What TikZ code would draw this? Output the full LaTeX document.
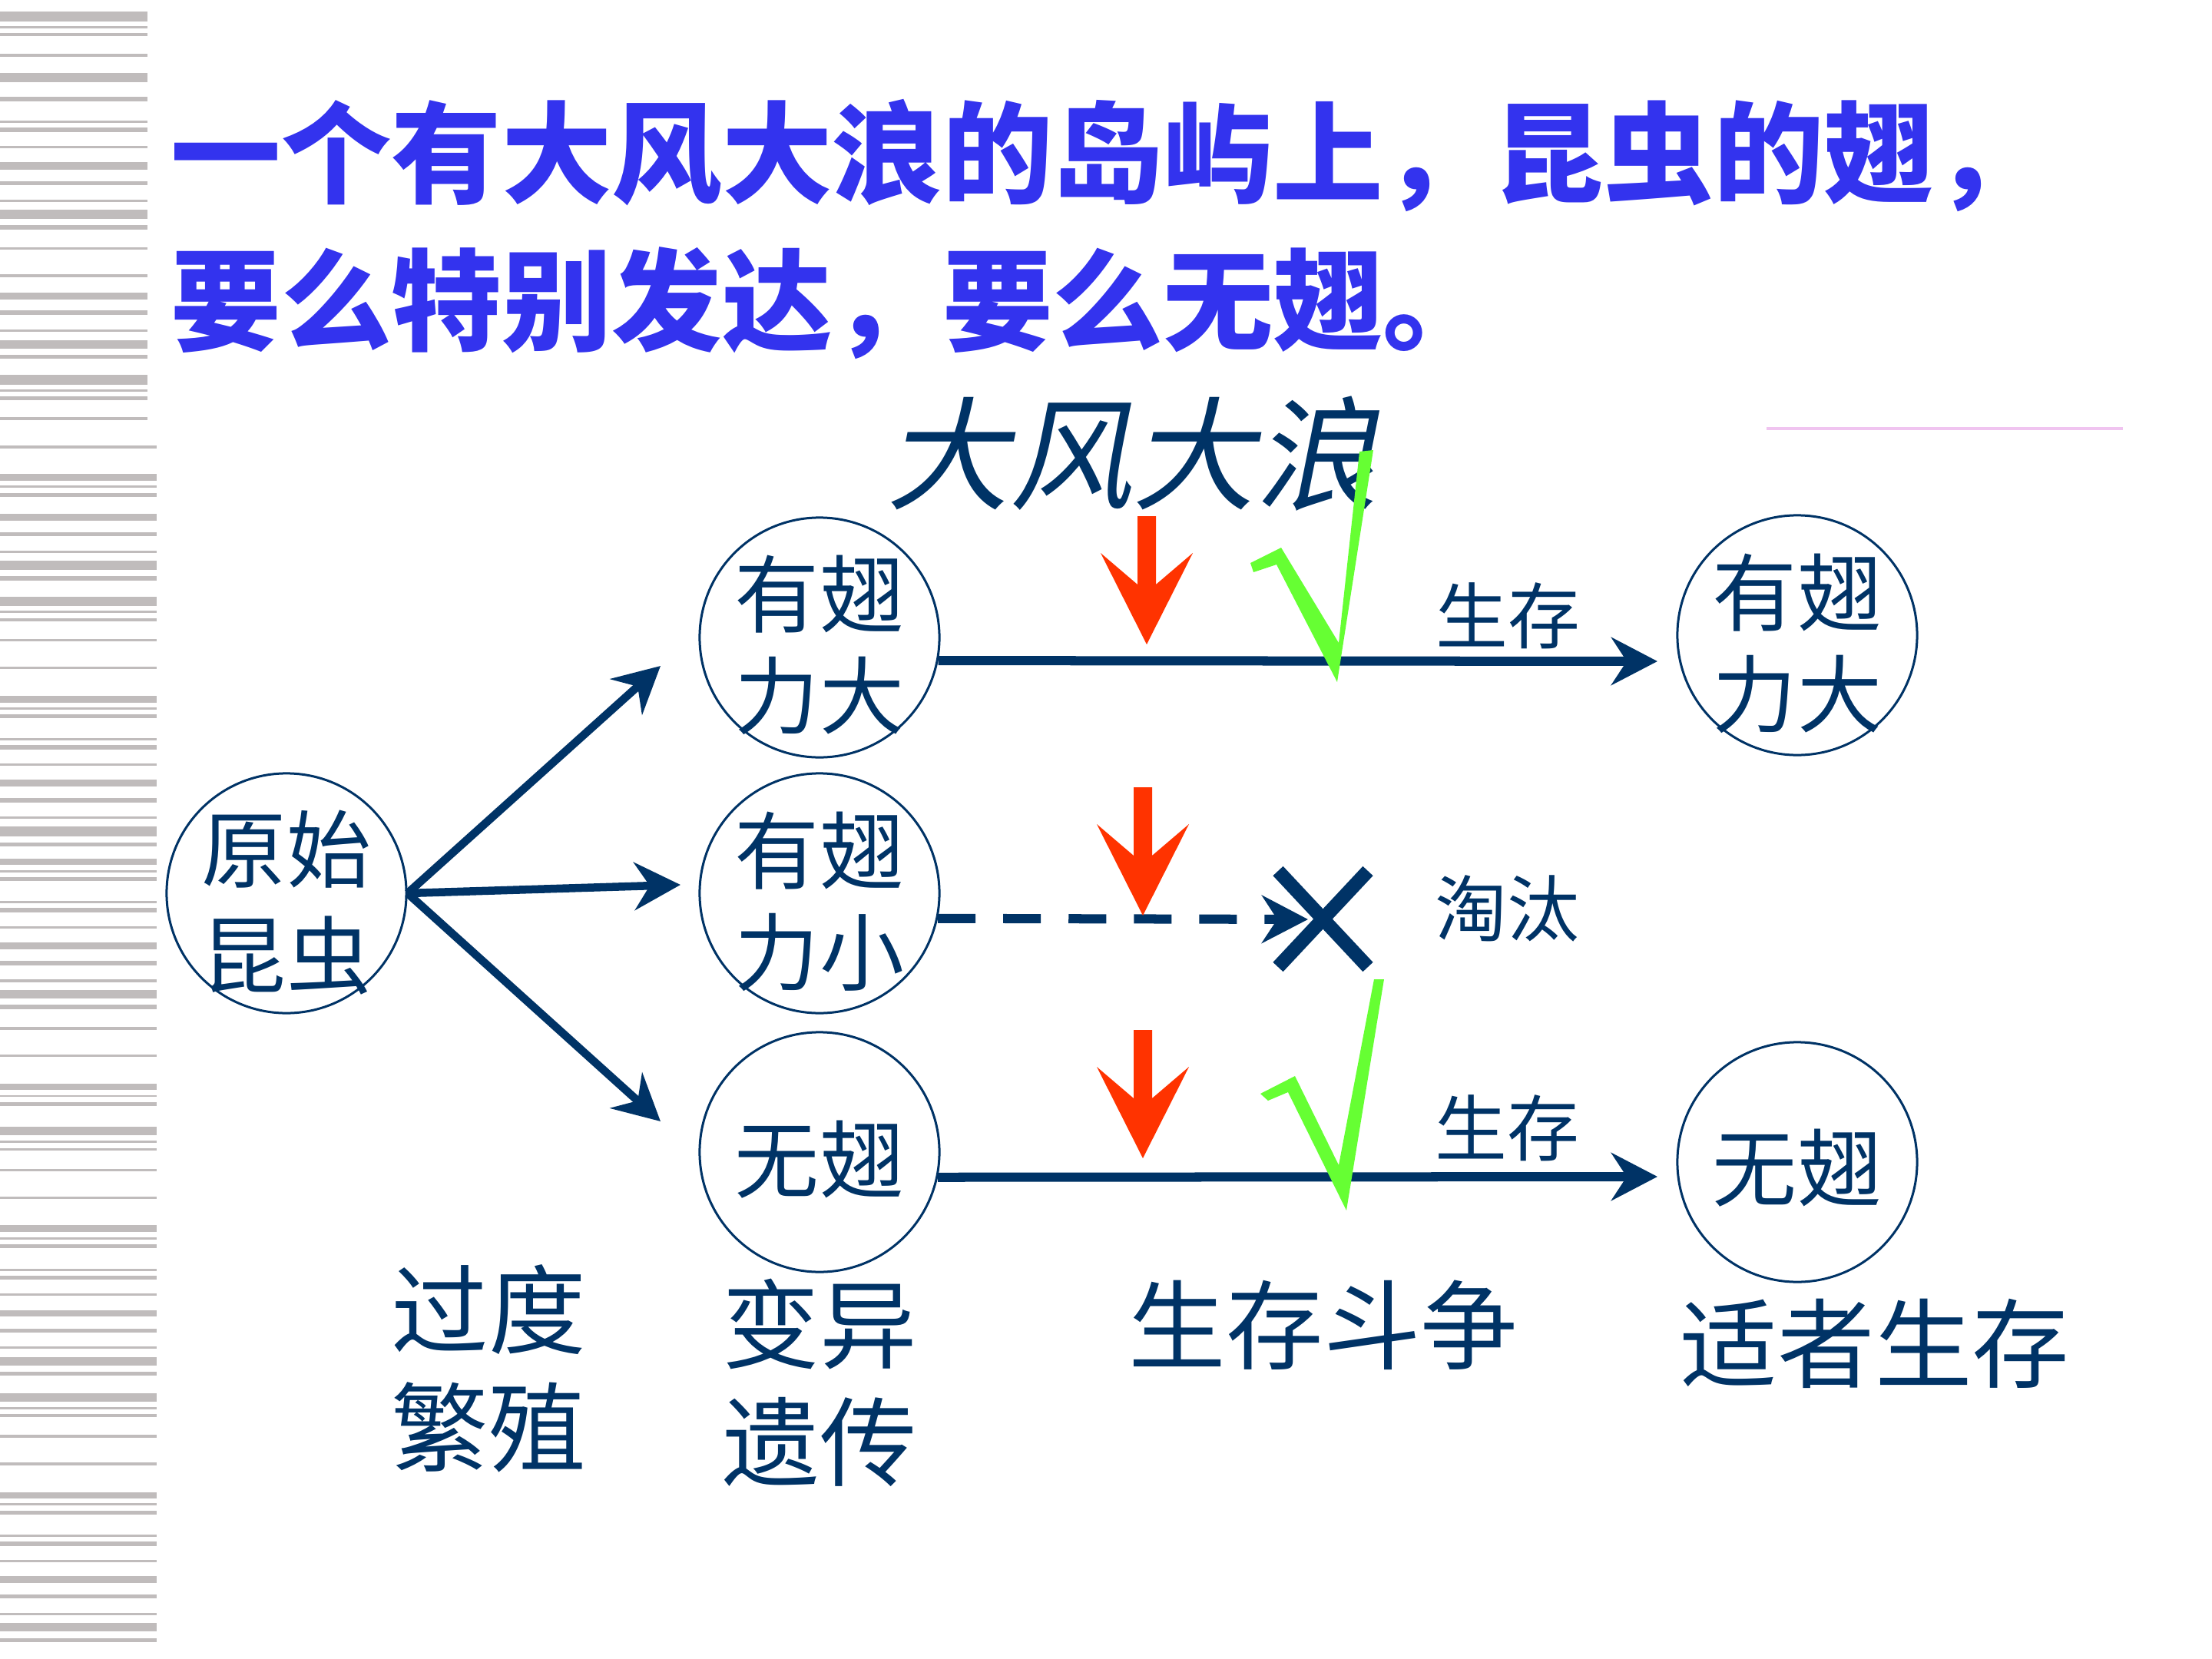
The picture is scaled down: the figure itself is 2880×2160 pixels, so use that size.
\documentclass[tikz,border=0pt]{standalone}
\usepackage{fontspec}
\newfontfamily\cjk{Noto Sans CJK SC}
\usetikzlibrary{arrows.meta}
\definecolor{navy}{RGB}{0,51,102}
\definecolor{titleblue}{RGB}{51,51,238}
\definecolor{windred}{RGB}{255,51,0}
\definecolor{okgreen}{RGB}{102,255,51}
\definecolor{stripegray}{RGB}{192,188,188}
\definecolor{rulepink}{RGB}{240,196,240}
\tikzset{
  pop/.style={circle, draw=navy, line width=0.3mm, minimum size=3.12cm, inner sep=0pt},
  poptext/.style={text=navy, font=\cjk\fontsize{31.3}{37.5}\selectfont, align=center, inner sep=0pt},
  stagetext/.style={text=navy, font=\cjk\fontsize{36}{43.5}\selectfont, align=center, inner sep=0pt},
  fatetext/.style={text=navy, font=\cjk\fontsize{26.7}{32}\selectfont, inner sep=0pt},
  titletext/.style={anchor=west, inner sep=0pt, text=titleblue, font=\cjk\bfseries\fontsize{40.8}{48}\selectfont},
  branch/.style={navy, line width=1.05mm, -{Stealth[length=6mm, width=6.2mm, inset=2mm]}},
}

\begin{document}
\begin{tikzpicture}[x=0.01cm, y=-0.01cm]
    \useasboundingbox (0,0) rectangle (2880,2160);
    \fill[white] (0,0) rectangle (2880,2160);
    \foreach \ya/\yb in {15/28, 34/37, 43/47, 70/74, 95/107, 126/132, 157/160, 166/172, 190/193, 211/221, 236/241, 260/263, 273/285, 293/299, 322/325, 357/361, 381/390, 404/410, 429/432, 443/454, 462/467, 488/501, 507/510, 516/521, 543/547}
        \fill[stripegray] (0,\ya) rectangle (192,\yb);
    \foreach \ya/\yb in {580/584, 617/626, 632/635, 642/647, 669/678, 693/698, 717/720, 730/742, 750/756, 777/789, 795/798, 805/809, 832/835, 868/871, 906/915, 921/924, 930/935, 961/964, 970/976, 994/997, 1015/1024, 1039/1045, 1063/1066, 1076/1089, 1097/1102, 1118/1126, 1133/1136, 1142/1147, 1173/1176, 1182/1188, 1206/1209, 1227/1236, 1251/1257, 1275/1279, 1289/1300, 1308/1314, 1337/1341, 1373/1376, 1411/1419, 1426/1428, 1435/1440, 1467/1478, 1485/1488, 1495/1498, 1522/1525, 1558/1561, 1595/1604, 1611/1614, 1620/1625, 1652/1655, 1661/1666, 1684/1687, 1706/1714, 1730/1735, 1753/1756, 1767/1778, 1786/1791, 1814/1825, 1832/1835, 1841/1845, 1868/1872, 1904/1908, 1943/1951, 1957/1960, 1967/1972, 1998/2001, 2007/2013, 2031/2034, 2052/2061, 2076/2081, 2100/2103, 2113/2124, 2133/2138}
        \fill[stripegray] (0,\ya) rectangle (204,\yb);
    \draw[rulepink, line width=0.4mm] (2300,558) -- (2764,558);

    \node[titletext] (title1) at (222,202) {一个有大风大浪的岛屿上，昆虫的翅，};
    \node[titletext] (title2) at (222,395) {要么特别发达，要么无翅。};
    \node[text=navy, font=\cjk\fontsize{45.5}{50}\selectfont, inner sep=0pt, xslant=0.2, transform shape] (wind) at (1487,591) {大风大浪};

    \node[pop] (origin) at (373,1163) {};
    \node[pop] (bigwing) at (1067,830) {};
    \node[pop] (smallwing) at (1067,1163) {};
    \node[pop] (nowing) at (1067,1500) {};
    \node[pop] (bigwing2) at (2340,827) {};
    \node[pop] (nowing2) at (2340,1513) {};
    \node[poptext, font=\cjk\fontsize{31.3}{39}\selectfont] (origin-t) at (373,1175) {原始\\昆虫};
    \node[poptext] (bigwing-t) at (1067,840) {有翅\\力大};
    \node[poptext] (smallwing-t) at (1067,1174) {有翅\\力小};
    \node[poptext] (nowing-t) at (1067,1510) {无翅};
    \node[poptext] (bigwing2-t) at (2340,838) {有翅\\力大};
    \node[poptext] (nowing2-t) at (2340,1521) {无翅};

    \coordinate (tipA) at (860,867);
    \coordinate (tipB) at (886,1152);
    \coordinate (tipC) at (860,1460);
    \coordinate (liveA) at (2158,861);
    \coordinate (liveB) at (2158,1532);
    \coordinate (dropX) at (1703,1197);
    \draw[branch] (origin.east) -- (tipA);
    \draw[branch] (origin.east) -- (tipB);
    \draw[branch] (origin.east) -- (tipC);
    \draw[branch, line width=1.2mm] (bigwing.-11.5) -- (liveA);
    \draw[branch, line width=1.2mm, dash pattern=on 4.9mm off 3.6mm] (smallwing.-12.3) -- (dropX);
    \draw[branch, line width=1.2mm] (nowing.-12) -- (liveB);

    \node[fatetext] (survive1) at (1963,802) {生存};
    \node[fatetext] (cull) at (1962,1183) {淘汰};
    \node[fatetext] (survive2) at (1962,1469) {生存};

    \node[stagetext] (overbreed) at (636,1782) {过度\\繁殖};
    \node[stagetext] (variation) at (1067,1800) {变异\\遗传};
    \node[stagetext] (struggle) at (1723,1725) {生存斗争};
    \node[stagetext] (fittest) at (2441,1749) {适者生存};

    \draw[navy, line width=1.8mm] (1664,1134) -- (1781,1259);
    \draw[navy, line width=1.8mm] (1781,1134) -- (1664,1259);

    \foreach \tx/\ty in {1493/839, 1488/1192, 1488/1508}
        \fill[windred] (\tx-12,\ty-167) -- (\tx+12,\ty-167) -- (\tx+12,\ty-78) -- (\tx+60,\ty-119) -- (\tx,\ty) -- (\tx-60,\ty-119) -- (\tx-12,\ty-78) -- cycle;

    \fill[okgreen] (1628,733) -- (1668,713) -- (1743,837) -- (1770,588) -- (1788,586) -- (1741,888) -- (1662,735) -- (1632,745) -- cycle;
    \fill[okgreen] (1641,1424) -- (1686,1401) -- (1743,1517) -- (1789,1275) -- (1802,1275) -- (1753,1576) -- (1677,1422) -- (1651,1433) -- cycle;
\end{tikzpicture}
\end{document}
